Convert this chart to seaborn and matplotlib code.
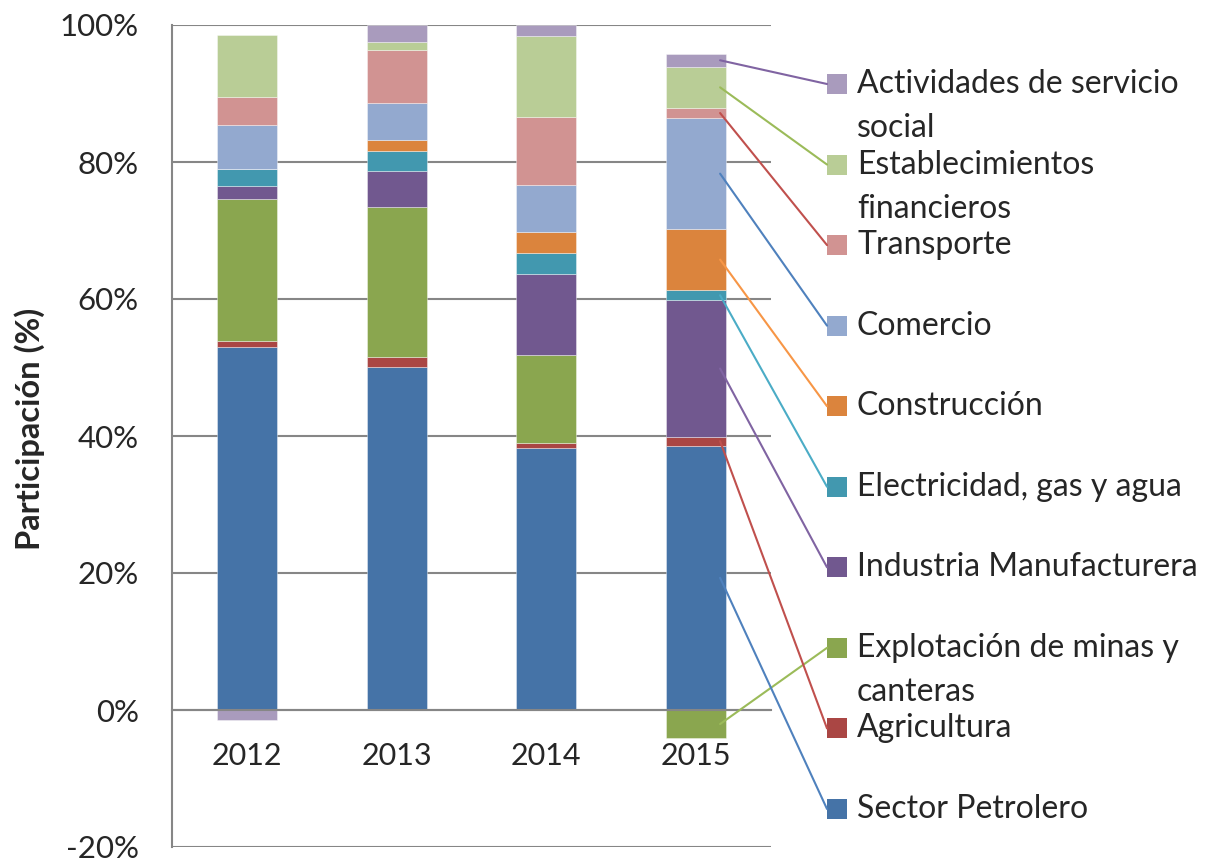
import numpy as np
import pandas as pd
import seaborn as sns
import matplotlib.pyplot as plt
from matplotlib.patches import ConnectionPatch, Rectangle

# ---- data (participacion %) ----
years = ['2012', '2013', '2014', '2015']

petrolero = [53.0, 50.1, 38.3, 38.6]
agricultura = [0.8, 1.4, 0.7, 1.3]
mineria = [20.8, 22.0, 12.8, -4.1]
industria = [1.9, 5.2, 11.9, 19.9]
electricidad = [2.5, 2.9, 3.0, 1.5]
construccion = [0.0, 1.6, 3.1, 8.9]
comercio = [6.4, 5.4, 6.9, 16.2]
transporte = [4.1, 7.8, 9.9, 1.5]
financieros = [9.0, 1.1, 11.8, 6.0]
servicios = [-1.4, 2.5, 1.6, 1.9]

series_labels = ['Sector Petrolero', 'Agricultura', 'Explotación de minas y\ncanteras',
                 'Industria Manufacturera', 'Electricidad, gas y agua', 'Construcción',
                 'Comercio', 'Transporte', 'Establecimientos\nfinancieros',
                 'Actividades de servicio\nsocial']
series_values = [petrolero, agricultura, mineria, industria, electricidad, construccion,
                 comercio, transporte, financieros, servicios]

bar_colors = ['#4573A7', '#AA4644', '#8AA64F', '#71588F', '#4298AF',
              '#DB843D', '#93A9CF', '#D19392', '#B9CD96', '#A99BBD']
line_colors = ['#4F81BD', '#C0504D', '#9BBB59', '#8064A2', '#4BACC6',
               '#F79646', '#4F81BD', '#C0504D', '#9BBB59', '#8064A2']

W, H = 1214, 859
GRAY = '#868686'

sns.set_style('white')
plt.rcParams['font.family'] = ['Lato', 'DejaVu Sans']

fig = plt.figure(figsize=(W / 100, H / 100), dpi=100)
ax = fig.add_axes([172 / W, 1 - 847 / H, (771 - 172) / W, (847 - 25) / H])

# stacked bars: positives go up from 0, negatives go down
pos_base = np.zeros(len(years))
neg_base = np.zeros(len(years))
mids_2015 = []
for label, vals, col in zip(series_labels, series_values, bar_colors):
    v = np.array(vals, dtype=float)
    bottom = np.where(v >= 0, pos_base, neg_base)
    df = pd.DataFrame({'year': years, 'valor': v})
    sns.barplot(data=df, x='year', y='valor', color=col, saturation=1, width=0.4,
                bottom=bottom, edgecolor=(1, 1, 1, 0.45), linewidth=0.6, ax=ax)
    mids_2015.append(bottom[-1] + v[-1] / 2)
    pos_base = np.where(v >= 0, pos_base + v, pos_base)
    neg_base = np.where(v < 0, neg_base + v, neg_base)

# axes styling
ax.set_xlim(-0.5, 3.5)
ax.set_ylim(-20, 100)
ax.set_xlabel('')
ax.set_ylabel('')
yt = list(range(-20, 101, 20))
ax.set_yticks(yt)
ax.set_yticklabels([f'{t}%' for t in yt])
ax.yaxis.grid(True, color=GRAY, linewidth=1.5)
ax.set_axisbelow(True)

for s in ['top', 'right']:
    ax.spines[s].set_visible(False)
ax.spines['left'].set_color(GRAY)
ax.spines['left'].set_linewidth(1.5)
ax.spines['bottom'].set_position(('data', 0))
ax.spines['bottom'].set_color(GRAY)
ax.spines['bottom'].set_linewidth(1.5)

ax.set_xticks([-0.5, 0.5, 1.5, 2.5, 3.5], minor=True)
ax.tick_params(axis='x', which='major', length=0, pad=23, labelsize=22)
ax.tick_params(axis='x', which='minor', length=7, width=1.5, color=GRAY, direction='out')
ax.tick_params(axis='y', length=7, width=1.5, color=GRAY, direction='out', pad=17, labelsize=22.5)

fig.text(30 / W, 1 - 429 / H, 'Participación (%)', rotation=90, ha='center', va='center',
         fontsize=23.5, fontweight='bold')

# legend with leader lines from the 2015 bar
legend_top = 84
legend_step = 80.55
order = list(range(len(series_labels)))[::-1]
for i, idx in enumerate(order):
    yc = legend_top + i * legend_step
    fig.add_artist(Rectangle((827 / W, 1 - (yc + 10) / H), 20 / W, 20 / H,
                             transform=fig.transFigure, facecolor=bar_colors[idx],
                             edgecolor='none'))
    for j, line in enumerate(series_labels[idx].split('\n')):
        fig.text(857 / W, 1 - (yc + j * 44) / H, line, ha='left', va='center', fontsize=23)
    con = ConnectionPatch(xyA=(3.16, mids_2015[idx]), coordsA=ax.transData,
                          xyB=(827 / W, 1 - yc / H), coordsB=fig.transFigure,
                          color=line_colors[idx], linewidth=1.5, zorder=10)
    fig.add_artist(con)

fig.savefig('out.png', dpi=100)
